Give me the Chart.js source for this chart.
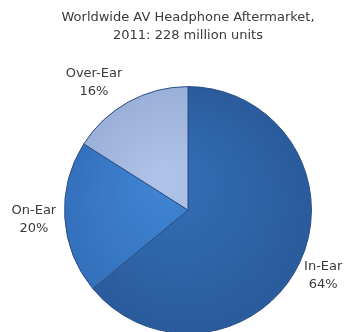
<!DOCTYPE html>
<html>
<head>
<meta charset="utf-8">
<script src="https://cdn.jsdelivr.net/npm/chart.js@4/dist/chart.umd.min.js"></script>
<style>
html,body{margin:0;padding:0;background:#fff;overflow:hidden;}
#wrap{position:relative;width:349px;height:340px;}
</style>
</head>
<body>
<div id="wrap"><canvas id="c"></canvas></div>
<script>
const categories = ["In-Ear", "On-Ear", "Over-Ear"];
const shares = [64, 20, 16];
const titleLines = ["Worldwide AV Headphone Aftermarket,", "2011: 228 million units"];
const sliceColors = [["#3470b8", "#2a5b9c"], ["#4086d4", "#3470bb"], ["#b0c3e8", "#9bb0d8"]];

const labelPlugin = {
  id: "sliceLabels",
  afterDatasetsDraw(chart, args, opts) {
    const ctx = chart.ctx;
    const meta = chart.getDatasetMeta(0);
    ctx.save();
    ctx.font = opts.font;
    ctx.fillStyle = opts.color;
    ctx.textAlign = "center";
    ctx.textBaseline = "middle";
    meta.data.forEach((arc, i) => {
      const mid = (arc.startAngle + arc.endAngle) / 2;
      const d = arc.outerRadius + opts.distance;
      const off = opts.offsets[i] || [0, 0];
      const x = arc.x + Math.cos(mid) * d + off[0];
      const y = arc.y + Math.sin(mid) * d + off[1];
      ctx.fillText(categories[i], x, y - 9);
      ctx.fillText(shares[i] + "%", x, y + 9);
    });
    ctx.restore();
  }
};

function fill(c) {
  const chart = c.chart;
  const area = chart.chartArea;
  const pair = sliceColors[c.dataIndex];
  if (!area) return pair[0];
  const cx = (area.left + area.right) / 2;
  const cy = (area.top + area.bottom) / 2;
  const r = Math.min(area.right - area.left, area.bottom - area.top) / 2;
  const g = chart.ctx.createRadialGradient(cx - r * 0.2, cy - r * 0.3, 0, cx, cy, r);
  g.addColorStop(0, pair[0]);
  g.addColorStop(1, pair[1]);
  return g;
}

new Chart(document.getElementById("c"), {
  type: "pie",
  data: {
    labels: categories,
    datasets: [{
      data: shares,
      backgroundColor: fill,
      borderColor: "#2a4f85",
      borderWidth: 1
    }]
  },
  options: {
    responsive: true,
    maintainAspectRatio: false,
    animation: false,
    layout: { padding: { left: 27, right: 0, top: 0, bottom: 6 } },
    plugins: {
      legend: { display: false },
      tooltip: { enabled: false },
      title: {
        display: true,
        text: titleLines,
        color: "#3a3a3a",
        font: { family: "DejaVu Sans", size: 13, weight: "normal", lineHeight: 1.35 },
        padding: { top: 9, bottom: 42 }
      },
      sliceLabels: {
        font: "13px 'DejaVu Sans'",
        color: "#3a3a3a",
        distance: 26,
        offsets: [[0, 2], [-5, 0], [-22, 4]]
      }
    }
  },
  plugins: [labelPlugin]
});
</script>
</body>
</html>
